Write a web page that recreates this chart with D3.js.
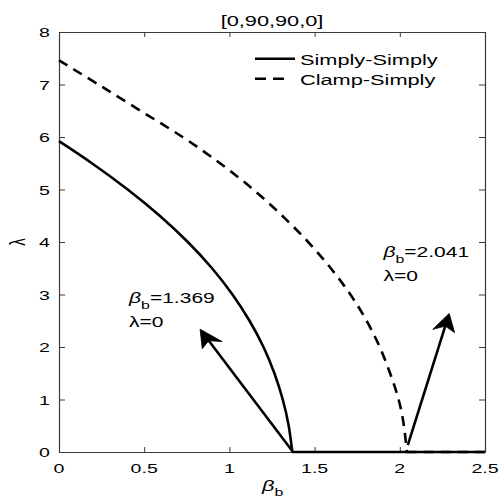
<!DOCTYPE html>
<html>
<head>
<meta charset="utf-8">
<script src="https://cdn.jsdelivr.net/npm/d3@7"></script>
<style>
  html, body { margin: 0; padding: 0; background: #fff; }
  svg { display: block; }
  text { font-family: "Liberation Sans", Arial, sans-serif; fill: #000; }
</style>
</head>
<body>
<svg id="chart" width="500" height="499"></svg>
<script>
// ---------- data ----------
const titleText = "[0,90,90,0]";
const seriesNames = ["Simply-Simply", "Clamp-Simply"];

// Simply-Simply: buckling curve, then λ = 0 beyond β_b = 1.369
const ssBeta   = [0, 0.193, 0.403, 0.591, 0.756, 0.898, 1.018, 1.118, 1.2, 1.264, 1.313, 1.348, 1.369, 2.5];
const ssLambda = [5.92, 5.5, 5.0, 4.5, 4.0, 3.5, 3.0, 2.5, 2.0, 1.5, 1.0, 0.5, 0, 0];

// Clamp-Simply: buckling curve, then λ = 0 beyond β_b = 2.041
const csBeta   = [0, 0.231, 0.478, 0.725, 0.945, 1.14, 1.31, 1.462, 1.595, 1.71, 1.805, 1.882, 1.943, 1.993, 2.024, 2.041, 2.5];
const csLambda = [7.46, 7.0, 6.5, 6.0, 5.5, 5.0, 4.5, 4.0, 3.5, 3.0, 2.5, 2.0, 1.5, 1.0, 0.5, 0, 0];

const xTicks = [0, 0.5, 1, 1.5, 2, 2.5];
const xTickLabels = ["0", "0.5", "1", "1.5", "2", "2.5"];
const yTicks = [0, 1, 2, 3, 4, 5, 6, 7, 8];
const yTickLabels = ["0", "1", "2", "3", "4", "5", "6", "7", "8"];

const annotValues = ["1.369", "2.041"];
const annotBeta   = [0.411, 1.904];   // text anchor (data coords)
const annotLambda = [2.84, 3.72];
const arrowTail = [[1.369, 0.02], [2.047, 0.13]];
const arrowTip  = [[0.828, 2.34], [2.29, 2.64]];

// ---------- layout ----------
const SX = 1.45; // horizontal text stretch seen in the reference
const margin = { left: 59, right: 15, top: 32, bottom: 47 };
const W = 500, H = 499;
const x = d3.scaleLinear().domain([0, 2.5]).range([margin.left, W - margin.right]);
const y = d3.scaleLinear().domain([0, 8]).range([H - margin.bottom, margin.top]);

const svg = d3.select("#chart");

function addText(g, px, py, str, size, anchor) {
  return g.append("text")
    .attr("transform", `translate(${px},${py}) scale(${SX},1)`)
    .attr("text-anchor", anchor || "start")
    .attr("font-size", size)
    .text(str);
}

// ---------- axes ----------
const axisColor = "#3a3a3a";
const gx = svg.append("g").attr("transform", `translate(0,${y(0)})`)
  .call(d3.axisBottom(x).tickValues(xTicks).tickSize(-5).tickSizeOuter(0).tickFormat(() => ""));
const gxt = svg.append("g").attr("transform", `translate(0,${y(8)})`)
  .call(d3.axisTop(x).tickValues(xTicks).tickSize(-5).tickSizeOuter(0).tickFormat(() => ""));
const gy = svg.append("g").attr("transform", `translate(${x(0)},0)`)
  .call(d3.axisLeft(y).tickValues(yTicks).tickSize(-6).tickSizeOuter(0).tickFormat(() => ""));
const gyr = svg.append("g").attr("transform", `translate(${x(2.5)},0)`)
  .call(d3.axisRight(y).tickValues(yTicks).tickSize(-6).tickSizeOuter(0).tickFormat(() => ""));
[gx, gxt, gy, gyr].forEach(g => {
  g.selectAll("path.domain").attr("stroke", axisColor).attr("stroke-width", 1.2);
  g.selectAll(".tick line").attr("stroke", axisColor).attr("stroke-width", 1);
  g.selectAll(".tick text").remove();
});

// tick labels
const tickLayer = svg.append("g");
xTicks.forEach((t, i) => addText(tickLayer, x(t), y(0) + 21, xTickLabels[i], 13.5, "middle"));
yTicks.forEach((t, i) => addText(tickLayer, x(0) - 9, y(t) + 5, yTickLabels[i], 13.5, "end"));

// title
addText(svg, (x(0) + x(2.5)) / 2, 26, titleText, 15, "middle");

// axis labels
const xl = svg.append("text")
  .attr("transform", `translate(${(x(0) + x(2.5)) / 2 - 10},${491}) scale(${SX},1)`)
  .attr("font-size", 15);
xl.append("tspan").attr("font-style", "italic").text("β");
xl.append("tspan").attr("font-size", 11).attr("dy", 5).text("b");

svg.append("text")
  .attr("transform", `translate(25,${y(4)}) scale(${SX},1) rotate(-90)`)
  .attr("text-anchor", "middle")
  .attr("font-size", 15)
  .text("λ");

// ---------- curves ----------
function splitSeries(bs, ls) {
  const k = ls.indexOf(0);
  const curve = bs.slice(0, k + 1).map((b, i) => [b, ls[i]]);
  const flat = bs.slice(k).map((b, i) => [b, ls[k + i]]);
  return { curve, flat };
}
const lineCurve = d3.line().x(d => x(d[0])).y(d => y(d[1])).curve(d3.curveNatural);
const lineFlat = d3.line().x(d => x(d[0])).y(d => y(d[1]));

const ss = splitSeries(ssBeta, ssLambda);
const cs = splitSeries(csBeta, csLambda);

svg.append("path").attr("d", lineCurve(cs.curve))
  .attr("fill", "none").attr("stroke", "#000").attr("stroke-width", 2.6)
  .attr("stroke-dasharray", "10,7");
svg.append("path").attr("d", lineFlat(cs.flat))
  .attr("fill", "none").attr("stroke", "#000").attr("stroke-width", 2.6)
  .attr("stroke-dasharray", "10,7");
svg.append("path").attr("d", lineCurve(ss.curve))
  .attr("fill", "none").attr("stroke", "#000").attr("stroke-width", 2.6);
svg.append("path").attr("d", lineFlat(ss.flat))
  .attr("fill", "none").attr("stroke", "#000").attr("stroke-width", 2.6);

// ---------- legend ----------
const lg = svg.append("g");
lg.append("line").attr("x1", 255).attr("x2", 295).attr("y1", 58.7).attr("y2", 58.7)
  .attr("stroke", "#000").attr("stroke-width", 2.6);
addText(lg, 300, 65, seriesNames[0], 15, "start");
lg.append("line").attr("x1", 255).attr("x2", 286).attr("y1", 78.7).attr("y2", 78.7)
  .attr("stroke", "#000").attr("stroke-width", 2.6).attr("stroke-dasharray", "11,7");
addText(lg, 300, 85, seriesNames[1], 15, "start");

// ---------- annotations ----------
const an = svg.append("g");
annotValues.forEach((v, i) => {
  const px = x(annotBeta[i]), py = y(annotLambda[i]);
  const t = an.append("text")
    .attr("transform", `translate(${px},${py}) scale(${SX},1)`)
    .attr("font-size", 14.5);
  t.append("tspan").attr("font-style", "italic").text("β");
  t.append("tspan").attr("font-size", 11).attr("dy", 6.3).text("b");
  t.append("tspan").attr("dy", -6.3).text("=" + v);
  addText(an, px, py + 24.5, "λ=0", 14.5, "start");
});

// arrows
arrowTail.forEach((tail, i) => {
  const tip = arrowTip[i];
  const x0 = x(tail[0]), y0 = y(tail[1]);
  const x1 = x(tip[0]), y1 = y(tip[1]);
  const dx = (x1 - x0) / SX, dy = y1 - y0;
  const len = Math.hypot(dx, dy);
  const ux = dx / len, uy = dy / len;
  const vx = -uy, vy = ux;
  const L = 18, Wd = 7.7, N = 13;
  const pt = (a, b) => [x1 + (-a * ux + b * vx) * SX, y1 + (-a * uy + b * vy)];
  const back = pt(N, 0);
  an.append("line").attr("x1", x0).attr("y1", y0).attr("x2", back[0]).attr("y2", back[1])
    .attr("stroke", "#000").attr("stroke-width", 2.6);
  const poly = [[x1, y1], pt(L, Wd), back, pt(L, -Wd)];
  an.append("path").attr("d", "M" + poly.map(p => p.join(",")).join("L") + "Z")
    .attr("fill", "#000").attr("stroke", "#000").attr("stroke-width", 0.8);
});
</script>
</body>
</html>
